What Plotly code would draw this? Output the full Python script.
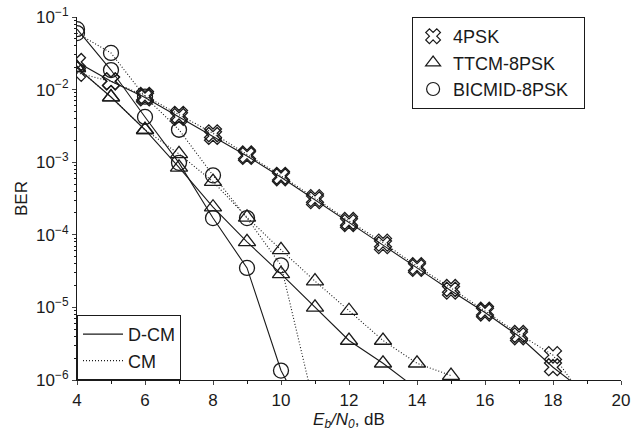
import plotly.graph_objects as go

# ---- data ----
snr_4psk = [4, 5, 6, 7, 8, 9, 10, 11, 12, 13, 14, 15, 16, 17, 18, 19]
ber_4psk_dcm = [0.024, 0.013, 0.0078, 0.0042, 0.0023, 0.00122, 6.2e-4, 3.0e-4, 1.45e-4,
                7.2e-5, 3.5e-5, 1.7e-5, 8.5e-6, 4.0e-6, 1.5e-6, 6.5e-7]
ber_4psk_cm = [0.017, 0.013, 0.0082, 0.0045, 0.0025, 0.00128, 6.5e-4, 3.2e-4, 1.55e-4,
               7.8e-5, 3.7e-5, 1.85e-5, 9.0e-6, 4.3e-6, 2.2e-6, 5.0e-7]

snr_ttcm_dcm = [4, 5, 6, 7, 8, 9, 10, 11, 12, 13, 14]
ber_ttcm_dcm = [0.020, 0.0079, 0.0028, 8.5e-4, 2.4e-4, 8.0e-5, 2.9e-5, 1.0e-5, 3.5e-6, 1.7e-6, 7.5e-7]
snr_ttcm_cm = [4, 5, 6, 7, 8, 9, 10, 11, 12, 13, 14, 15]
ber_ttcm_cm = [0.020, 0.0079, 0.0028, 0.0013, 5.4e-4, 1.74e-4, 6.2e-5, 2.3e-5, 9.0e-6, 3.5e-6, 1.7e-6, 1.15e-6]

snr_bicm_dcm = [4, 5, 6, 7, 8, 9, 10, 11]
ber_bicm_dcm = [0.068, 0.0186, 0.0042, 9.8e-4, 1.7e-4, 3.5e-5, 1.35e-6, 1.8e-7]
snr_bicm_cm = [4, 5, 6, 7, 8, 9, 10, 11]
ber_bicm_cm = [0.060, 0.032, 0.0080, 0.0028, 6.6e-4, 1.7e-4, 3.8e-5, 4.0e-7]

x_ticks = [4, 6, 8, 10, 12, 14, 16, 18, 20]
y_ticks = [1e-1, 1e-2, 1e-3, 1e-4, 1e-5, 1e-6]
y_tick_text = ["10<sup>−1</sup>", "10<sup>−2</sup>", "10<sup>−3</sup>",
               "10<sup>−4</sup>", "10<sup>−5</sup>", "10<sup>−6</sup>"]

modulation_names = ["4PSK", "TTCM-8PSK", "BICMID-8PSK"]
scheme_names = ["D-CM", "CM"]

FONT = "Liberation Sans, Arial, sans-serif"
BLACK = "#1a1a1a"
DOT = "1px,2px"

fig = go.Figure()

def add(x, y, symbol, dash, size):
    fig.add_trace(go.Scatter(
        x=x, y=y, mode="lines+markers", showlegend=False,
        line=dict(color=BLACK, width=1.1, dash=dash),
        marker=dict(symbol=symbol, size=size, color=BLACK, line=dict(width=1.3, color=BLACK)),
    ))

add(snr_4psk, ber_4psk_cm, "x-open", DOT, 15)
add(snr_4psk, ber_4psk_dcm, "x-open", "solid", 15)
add(snr_ttcm_cm, ber_ttcm_cm, "triangle-up-open", DOT, 15)
add(snr_ttcm_dcm, ber_ttcm_dcm, "triangle-up-open", "solid", 15)
add(snr_bicm_cm, ber_bicm_cm, "circle-open", DOT, 15)
add(snr_bicm_dcm, ber_bicm_dcm, "circle-open", "solid", 15)

# legend entries (markers)
for name, sym in zip(modulation_names, ["x-open", "triangle-up-open", "circle-open"]):
    fig.add_trace(go.Scatter(x=[None], y=[None], mode="markers", name=name + "&nbsp;&nbsp;",
                             legend="legend",
                             marker=dict(symbol=sym, size=13, color=BLACK, line=dict(width=1.2, color=BLACK))))
# legend entries (line styles)
for name, dash in zip(scheme_names, ["solid", DOT]):
    fig.add_trace(go.Scatter(x=[None], y=[None], mode="lines", name=name, legend="legend2",
                             line=dict(color=BLACK, width=1.2, dash=dash)))

fig.update_layout(
    width=632, height=437,
    margin=dict(l=77, r=11, t=17, b=57),
    paper_bgcolor="white", plot_bgcolor="white",
    font=dict(family=FONT, size=17, color=BLACK),
    legend=dict(x=0.616, y=1.0, xanchor="left", yanchor="top",
                bordercolor=BLACK, borderwidth=1, bgcolor="white",
                font=dict(size=18), itemwidth=30, tracegroupgap=0),
    legend2=dict(x=0.0, y=0.0, xanchor="left", yanchor="bottom",
                 bordercolor=BLACK, borderwidth=1, bgcolor="white",
                 font=dict(size=18), itemwidth=40),
    xaxis=dict(range=[4, 20], tickvals=x_ticks, ticks="outside", ticklen=4,
               automargin=False,
               showline=True, linecolor=BLACK, linewidth=1.2, showgrid=False, zeroline=False,
               minor=dict(tickmode="array", tickvals=[5, 7, 9, 11, 13, 15, 17, 19],
                          ticks="outside", ticklen=3, tickcolor=BLACK, showgrid=False),
               title=dict(text="<i>E</i><sub><i>b</i></sub><i>/N</i><sub><i>0</i></sub>, dB",
                          standoff=4, font=dict(size=17))),
    yaxis=dict(type="log", range=[-6, -1], tickvals=y_ticks, ticktext=y_tick_text,
               ticks="outside", ticklen=4, automargin=False,
               showline=True, linecolor=BLACK, linewidth=1.2, showgrid=False, zeroline=False,
               minor=dict(tickmode="array",
                          tickvals=[m * 10.0 ** e for e in range(-6, -1) for m in range(2, 10)],
                          ticks="outside", ticklen=2, tickcolor=BLACK, showgrid=False),
               title=dict(text="BER", standoff=4, font=dict(size=17))),
)

fig.write_html("out.html", config={"displayModeBar": False},
               post_script="document.body.style.margin='0';document.body.style.overflow='hidden';")
